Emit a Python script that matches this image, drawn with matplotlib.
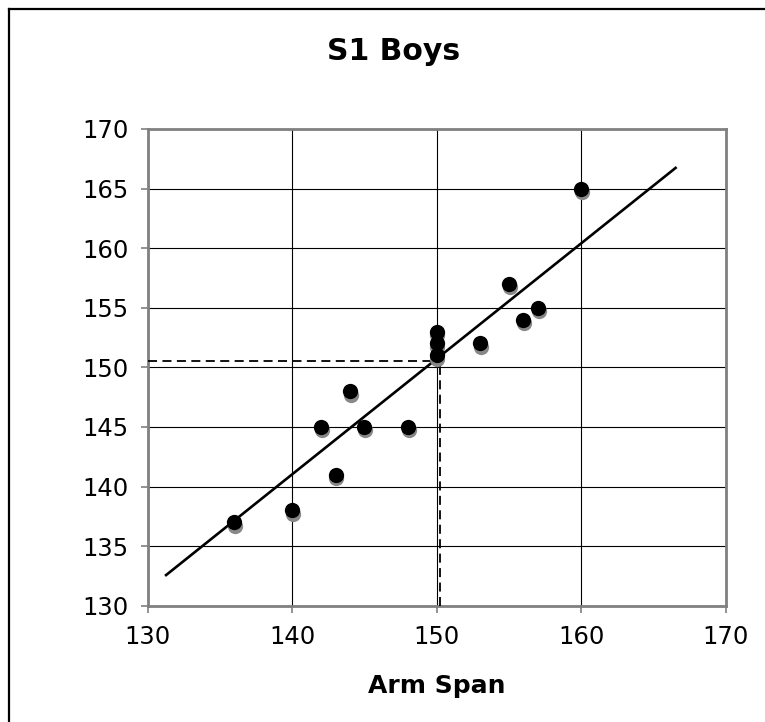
import matplotlib
matplotlib.use("Agg")
import matplotlib.pyplot as plt
import matplotlib.transforms as mtransforms
import numpy as np

# data
arm_span = [136, 140, 142, 143, 144, 145, 148, 150, 150, 150, 153, 155, 156, 157, 160]
height = [137, 138, 145, 141, 148, 145, 145, 153, 152, 151, 152, 157, 154, 155, 165]

trend_x = [131.2, 166.6]
trend_y = [132.5, 166.8]

read_x = 150.2
read_y = 150.55

ticks = [130, 135, 140, 145, 150, 155, 160, 165, 170]
xticks = [130, 140, 150, 160, 170]

fig = plt.figure(figsize=(7.65, 7.22), dpi=100)
ax = fig.add_axes([0.1931, 0.1611, 0.7556, 0.6603])

ax.set_xlim(130, 170)
ax.set_ylim(130, 170)
ax.set_xticks(xticks)
ax.set_yticks(ticks)
ax.grid(True, color="black", linewidth=0.8)
ax.set_axisbelow(True)

for s in ax.spines.values():
    s.set_color("#808080")
    s.set_linewidth(2)

ax.tick_params(axis="both", direction="out", length=5, width=1.2, color="#808080",
               labelsize=17.5, labelcolor="black")
ax.tick_params(axis="x", pad=9)
ax.tick_params(axis="y", pad=9)

# trend line
ax.plot(trend_x, trend_y, color="black", linewidth=1.9, zorder=3, solid_capstyle="butt")

# reading lines
ax.plot([130, read_x], [read_y, read_y], color="black", linewidth=1.3,
        linestyle=(0, (5, 3)), zorder=3)
ax.plot([read_x, read_x], [130, read_y], color="black", linewidth=1.3,
        linestyle=(0, (5, 3)), zorder=3)

# points with drop shadow
shadow = ax.transData + mtransforms.ScaledTranslation(0.5 / 72, -3.5 / 100, fig.dpi_scale_trans)
ax.plot(arm_span, height, "o", color="#888888", markersize=11, markeredgewidth=0,
        transform=shadow, zorder=4, clip_on=False)
ax.plot(arm_span, height, "o", color="black", markersize=11, markeredgewidth=0,
        zorder=5, clip_on=False)

fig.text(394 / 765, 1 - 52 / 722, "S1 Boys", ha="center", va="center",
         fontsize=21.5, fontweight="bold")
fig.text(436.7 / 765, 1 - 686 / 722, "Arm Span", ha="center", va="center",
         fontsize=18, fontweight="bold")

# outer frame (left and top edges visible)
fig.add_artist(plt.Line2D([9 / 765, 9 / 765], [0, 1 - 9 / 722], color="black",
                          linewidth=1.6, transform=fig.transFigure))
fig.add_artist(plt.Line2D([9 / 765, 1], [1 - 9 / 722, 1 - 9 / 722], color="black",
                          linewidth=1.6, transform=fig.transFigure))

fig.savefig("out.png", dpi=100)
